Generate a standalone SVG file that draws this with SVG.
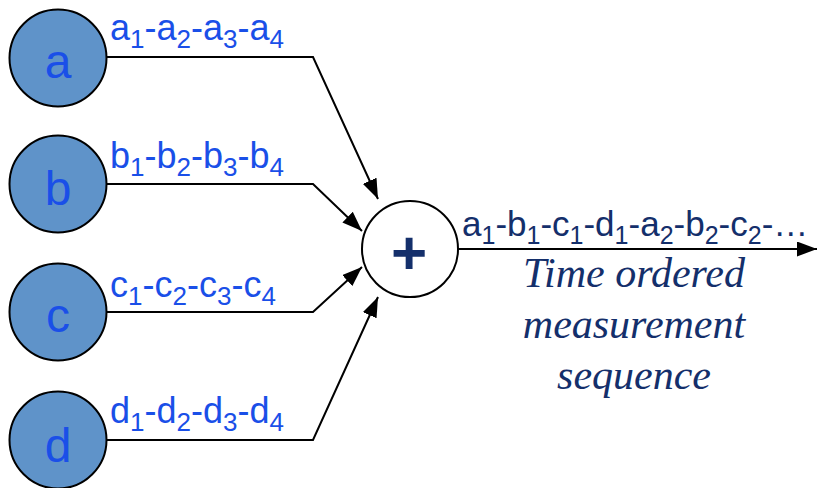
<svg xmlns="http://www.w3.org/2000/svg" width="817" height="488" viewBox="0 0 817 488">
<defs>
<marker id="ahb" markerWidth="20" markerHeight="15" refX="20" refY="7.5" orient="auto" markerUnits="userSpaceOnUse" viewBox="0 0 20 15">
<path d="M0,0 L20,7.5 L0,15 Z" fill="#000"/>
</marker>
</defs>
<style>
.node{fill:#5f93c9;stroke:#000;stroke-width:2}
.sum{fill:#fff;stroke:#000;stroke-width:2}
.big{font-family:"Liberation Sans",Arial,sans-serif;font-size:48px;fill:#1a4fe8;text-anchor:middle}
.lbl{font-family:"Liberation Sans",Arial,sans-serif;font-size:36px;fill:#1a4fe8}
.out{font-family:"Liberation Sans",Arial,sans-serif;font-size:35px;fill:#142f6b}
.sub{font-size:26px}
.osub{font-size:25px}
.it{font-family:"Liberation Serif","Times New Roman",serif;font-style:italic;font-size:42px;fill:#142f6b;text-anchor:middle}
.plus{font-family:"Liberation Sans",Arial,sans-serif;font-weight:bold;font-size:62px;fill:#142f6b;text-anchor:middle}
.con{fill:none;stroke:#000;stroke-width:2;marker-end:url(#ahb)}
</style>
<rect width="817" height="488" fill="#fff"/>
<g id="connectors">
<path class="con" d="M107,57 L313,57 L378,199"/>
<path class="con" d="M107,184 L313,184 L362,231"/>
<path class="con" d="M107,312 L313,312 L362,267"/>
<path class="con" d="M107,440 L313,440 L378,297"/>
<path class="con" d="M458,249 L817,249"/>
</g>
<g id="node-a">
<circle class="node" cx="58" cy="58" r="48.5"/>
<text class="big" x="58" y="78">a</text>
<text class="lbl" x="110" y="40">a<tspan class="sub" dy="8">1</tspan><tspan dy="-8">-a</tspan><tspan class="sub" dy="8">2</tspan><tspan dy="-8">-a</tspan><tspan class="sub" dy="8">3</tspan><tspan dy="-8">-a</tspan><tspan class="sub" dy="8">4</tspan></text>
</g>
<g id="node-b">
<circle class="node" cx="58" cy="184" r="48.5"/>
<text class="big" x="58" y="205">b</text>
<text class="lbl" x="110" y="168">b<tspan class="sub" dy="8">1</tspan><tspan dy="-8">-b</tspan><tspan class="sub" dy="8">2</tspan><tspan dy="-8">-b</tspan><tspan class="sub" dy="8">3</tspan><tspan dy="-8">-b</tspan><tspan class="sub" dy="8">4</tspan></text>
</g>
<g id="node-c">
<circle class="node" cx="58" cy="312" r="48.5"/>
<text class="big" x="58" y="332">c</text>
<text class="lbl" x="110" y="297">c<tspan class="sub" dy="8">1</tspan><tspan dy="-8">-c</tspan><tspan class="sub" dy="8">2</tspan><tspan dy="-8">-c</tspan><tspan class="sub" dy="8">3</tspan><tspan dy="-8">-c</tspan><tspan class="sub" dy="8">4</tspan></text>
</g>
<g id="node-d">
<circle class="node" cx="58" cy="440" r="48.5"/>
<text class="big" x="58" y="462">d</text>
<text class="lbl" x="110" y="423">d<tspan class="sub" dy="8">1</tspan><tspan dy="-8">-d</tspan><tspan class="sub" dy="8">2</tspan><tspan dy="-8">-d</tspan><tspan class="sub" dy="8">3</tspan><tspan dy="-8">-d</tspan><tspan class="sub" dy="8">4</tspan></text>
</g>
<g id="node-sum">
<circle class="sum" cx="410" cy="249" r="48"/>
<text class="plus" x="409" y="274">+</text>
</g>
<g id="output-label">
<text class="out" x="462" y="236">a<tspan class="osub" dy="8">1</tspan><tspan dy="-8">-b</tspan><tspan class="osub" dy="8">1</tspan><tspan dy="-8">-c</tspan><tspan class="osub" dy="8">1</tspan><tspan dy="-8">-d</tspan><tspan class="osub" dy="8">1</tspan><tspan dy="-8">-a</tspan><tspan class="osub" dy="8">2</tspan><tspan dy="-8">-b</tspan><tspan class="osub" dy="8">2</tspan><tspan dy="-8">-c</tspan><tspan class="osub" dy="8">2</tspan><tspan dy="-8">-…</tspan></text>
<text class="it" x="634" y="287">Time ordered</text>
<text class="it" x="634" y="338">measurement</text>
<text class="it" x="634" y="389">sequence</text>
</g>
</svg>
